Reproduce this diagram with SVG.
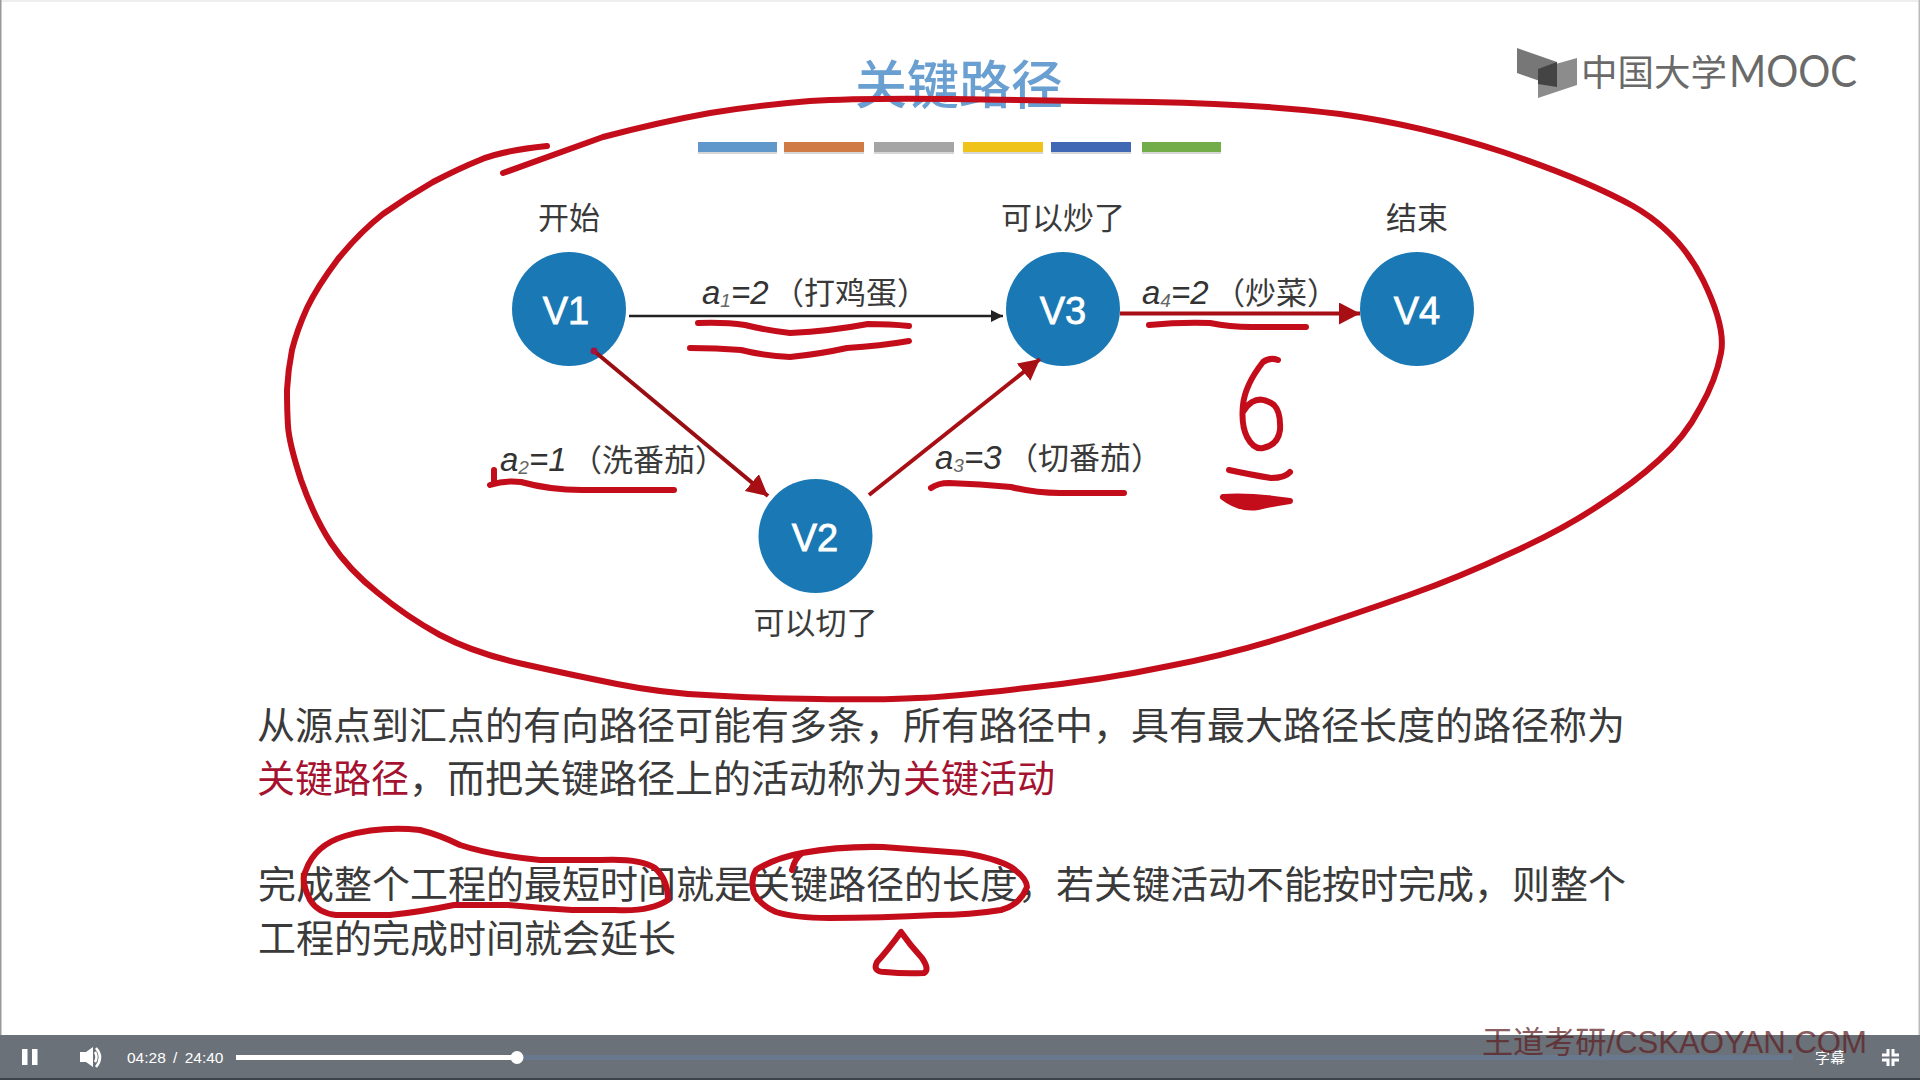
<svg xmlns="http://www.w3.org/2000/svg" width="1920" height="1080" viewBox="0 0 1920 1080">
<style>
text{font-family:"Liberation Sans","Noto Sans CJK SC",sans-serif}
.cjk{font-family:"Noto Sans CJK SC","Liberation Sans",sans-serif}
.body{font-size:38px;fill:#3a3a3a}
.hi{fill:#a5122f}
.lbl{font-size:31px;fill:#3a3a3a;text-anchor:middle}
.vt{font-size:38px;fill:#fff;text-anchor:middle;stroke:#fff;stroke-width:.8px}
.node{fill:#1a79b4}
.ed{font-size:33px;fill:#333}
.edc{font-size:31px;fill:#3a3a3a;font-style:normal}
.it{font-style:italic}
.sub{font-size:19px;font-style:italic;fill:#666}
.ink{fill:none;stroke:#c40d1b;stroke-width:6;stroke-linecap:round;stroke-linejoin:round}
.ctl{fill:#fff}
</style>
<defs>
<marker id="hb" markerUnits="userSpaceOnUse" markerWidth="14" markerHeight="14" refX="12" refY="6" orient="auto"><path d="M0 0L12 6L0 12Z" fill="#222"/></marker>
<marker id="hr" markerUnits="userSpaceOnUse" markerWidth="24" markerHeight="24" refX="21" refY="11" orient="auto"><path d="M0 0L21 11L0 22Z" fill="#a80f14"/></marker>
</defs>
<rect width="1920" height="1080" fill="#fff"/>
<rect width="1920" height="2" fill="#eee"/>
<rect width="1.500" height="1035" fill="#999"/>
<rect x="1918.500" width="1.500" height="1035" fill="#bbb"/>

<g id="title">
<text class="cjk" x="959" y="104" font-size="52" font-weight="500" fill="#6a9fd2" text-anchor="middle">关键路径</text>
</g>
<g id="color-bars">
<rect x="698" y="144" width="79" height="10" fill="#c4c4c4" opacity=".7"/><rect x="784" y="144" width="80" height="10" fill="#c4c4c4" opacity=".7"/><rect x="874" y="144" width="80" height="10" fill="#c4c4c4" opacity=".7"/><rect x="963" y="144" width="80" height="10" fill="#c4c4c4" opacity=".7"/><rect x="1051" y="144" width="80" height="10" fill="#c4c4c4" opacity=".7"/><rect x="1142" y="144" width="79" height="10" fill="#c4c4c4" opacity=".7"/>
<rect x="698" y="142" width="79" height="10" fill="#6098cc"/>
<rect x="784" y="142" width="80" height="10" fill="#d07a45"/>
<rect x="874" y="142" width="80" height="10" fill="#a5a5a5"/>
<rect x="963" y="142" width="80" height="10" fill="#f0c31a"/>
<rect x="1051" y="142" width="80" height="10" fill="#4168b4"/>
<rect x="1142" y="142" width="79" height="10" fill="#72ad4a"/>
</g>
<g id="logo">
<path d="M1517 48L1557 62V87L1517 73Z" fill="#777"/>
<path d="M1538 69L1577 58V85L1538 98Z" fill="#8c8c8c"/>
<path d="M1538 69L1557 62V87L1538 84Z" fill="#444"/>
<text class="cjk" x="1581" y="86" font-size="36.500" font-weight="400" fill="#6a6a6a">中国大学</text>
<text x="1729" y="87" font-size="44" fill="#6a6a6a" style="font-family:Lato,'Liberation Sans',sans-serif" font-weight="400" textLength="128" lengthAdjust="spacingAndGlyphs">MOOC</text>
</g>

<g id="node-v1"><circle class="node" cx="569" cy="309" r="57"/><text class="vt" x="566" y="324">V1</text><text class="lbl cjk" x="569" y="229">开始</text></g>
<g id="node-v2"><circle class="node" cx="815.500" cy="536" r="57"/><text class="vt" x="815" y="551">V2</text><text class="lbl cjk" x="815.500" y="634">可以切了</text></g>
<g id="node-v3"><circle class="node" cx="1063" cy="309" r="57"/><text class="vt" x="1063" y="324">V3</text><text class="lbl cjk" x="1063" y="229">可以炒了</text></g>
<g id="node-v4"><circle class="node" cx="1417" cy="309" r="57"/><text class="vt" x="1417" y="324">V4</text><text class="lbl cjk" x="1417" y="229">结束</text></g>

<g id="connectors">
<line x1="629" y1="316" x2="1003" y2="316" stroke="#222" stroke-width="2.500" marker-end="url(#hb)"/>
<line x1="1120" y1="313.500" x2="1360" y2="313.500" stroke="#a80f14" stroke-width="4" marker-end="url(#hr)"/>
<line x1="594" y1="351" x2="768" y2="496" stroke="#9a0d12" stroke-width="4" marker-end="url(#hr)"/>
<line x1="869" y1="495" x2="1040" y2="359" stroke="#a80f14" stroke-width="4" marker-end="url(#hr)"/>
<circle cx="594" cy="351" r="3.500" fill="#a5123f"/>
</g>

<g id="edge-labels">
<text class="ed" x="702" y="304"><tspan class="it">a</tspan><tspan class="sub" dy="3">1</tspan><tspan class="it" dy="-3">=2</tspan><tspan class="cjk edc" x="773">（打鸡蛋）</tspan></text>
<text class="ed" x="500" y="471"><tspan class="it">a</tspan><tspan class="sub" dy="3">2</tspan><tspan class="it" dy="-3">=1</tspan><tspan class="cjk edc" x="571">（洗番茄）</tspan></text>
<text class="ed" x="935" y="469"><tspan class="it">a</tspan><tspan class="sub" dy="3">3</tspan><tspan class="it" dy="-3">=3</tspan><tspan class="cjk edc" x="1007">（切番茄）</tspan></text>
<text class="ed" x="1142" y="304"><tspan class="it">a</tspan><tspan class="sub" dy="3">4</tspan><tspan class="it" dy="-3">=2</tspan><tspan class="cjk edc" x="1214">（炒菜）</tspan></text>
</g>

<g id="paragraphs">
<text class="body cjk" x="257" y="739">从源点到汇点的有向路径可能有多条，所有路径中，具有最大路径长度的路径称为</text>
<text class="body cjk" x="257" y="792"><tspan class="hi">关键路径</tspan>，而把关键路径上的活动称为<tspan class="hi">关键活动</tspan></text>
<text class="body cjk" x="258" y="898">完成整个工程的最短时间就是关键路径的长度，若关键活动不能按时完成，则整个</text>
<text class="body cjk" x="258" y="952">工程的完成时间就会延长</text>
</g>

<g id="annotations">
<path class="ink" d="M547 146Q500 151 480 160Q460 168 433 182Q407 197 383 214Q360 232 338 259Q317 287 307 308Q297 330 292 350Q288 370 287 390Q287 410 288 426Q289 443 301 480Q314 517 331 543Q349 570 378 593Q407 617 440 635Q474 653 523 664Q572 675 617 684Q662 693 706 695Q751 698 818 699Q885 700 917 698Q950 697 1026 688Q1103 680 1169 666Q1236 653 1297 633Q1358 613 1409 595Q1460 577 1511 553Q1562 530 1598 506Q1634 483 1659 460Q1685 437 1700 408Q1716 380 1721 353Q1726 327 1703 280Q1680 233 1633 206Q1586 180 1503 152Q1420 125 1340 114Q1260 104 1151 102Q1043 100 951 99Q859 98 810 101Q760 105 710 113Q660 122 603 137L503 173"/>
<path class="ink" d="M698 323Q725 322 745 325Q765 330 790 333Q831 331 868 324Q890 324 909 326"/>
<path class="ink" d="M690 348Q716 348 741 350Q765 356 790 357Q820 354 847 348Q880 346 909 341"/>
<path class="ink" d="M494 470V482M490 485Q505 480 521 482Q550 490 582 490H674"/>
<path class="ink" d="M931 488Q938 483 949 483Q980 484 1011 487Q1035 493 1060 493H1124"/>
<path class="ink" d="M1149 325Q1180 322 1210 323Q1230 327 1251 327H1306"/>
<path class="ink" d="M1278 360Q1270 357 1263 362Q1245 385 1243 405Q1241 425 1247 437Q1254 450 1263 448Q1278 445 1280 430Q1281 412 1274 405Q1262 396 1252 402Q1246 406 1243 412"/>
<path class="ink" d="M1229 470Q1252 475 1271 478Q1285 478 1290 472"/>
<path class="ink" style="fill:#c40d1b" d="M1223 497Q1250 495 1290 501Q1270 504 1258 507Q1240 510 1223 497Z"/>
<path class="ink" d="M310 900Q300 880 306 870Q315 845 345 836Q380 826 420 830Q440 835 460 845Q490 855 540 860H600Q640 858 655 868Q668 880 668 900Q650 912 615 910H572Q540 908 508 905H454Q420 912 390 915H336Q318 913 310 900Z"/>
<path class="ink" d="M792 870Q795 858 802 853Q840 846 883 847Q925 850 963 853Q995 858 1011 867Q1027 878 1027 887Q1020 905 1001 910Q970 915 936 915Q880 918 829 918Q795 918 776 912Q760 905 754 893Q750 880 756 870Q775 858 802 853"/>
<path class="ink" d="M901 932Q888 950 877 962Q872 972 885 972Q905 974 924 973Q930 970 922 958Q910 945 901 932Z"/>
</g>

<g id="player">
<rect y="1035" width="1920" height="45" fill="#6b7178"/>
<rect y="1078" width="1920" height="2" fill="#3d434a"/>
<rect x="22" y="1049" width="5.500" height="16" class="ctl"/><rect x="32" y="1049" width="5.500" height="16" class="ctl"/>
<path d="M80 1052H86L93 1047V1067L86 1062H80Z" class="ctl"/>
<path d="M95 1052Q98 1057 95 1062M96 1048Q104 1057 96 1067" fill="none" stroke="#fff" stroke-width="2.500"/>
<text x="127" y="1063" font-size="15.500" fill="#fff" word-spacing="3">04:28 / 24:40</text>
<rect x="236" y="1055" width="1557" height="5" fill="#68788f"/>
<rect x="236" y="1055" width="281" height="5" class="ctl"/>
<circle cx="517" cy="1057.500" r="6.500" class="ctl"/>
<text class="cjk" x="1815" y="1063" font-size="15" fill="#fff">字幕</text>
<path d="M1888 1049V1055H1882M1893 1049V1055H1899M1888 1066V1060H1882M1893 1066V1060H1899" fill="none" stroke="#fff" stroke-width="3"/>
</g>
<g id="watermark">
<text x="1482" y="1053" font-size="31" fill="#5e2024" opacity=".72" textLength="385" lengthAdjust="spacingAndGlyphs"><tspan class="cjk">王道考研</tspan>/CSKAOYAN.COM</text>
</g>
</svg>
